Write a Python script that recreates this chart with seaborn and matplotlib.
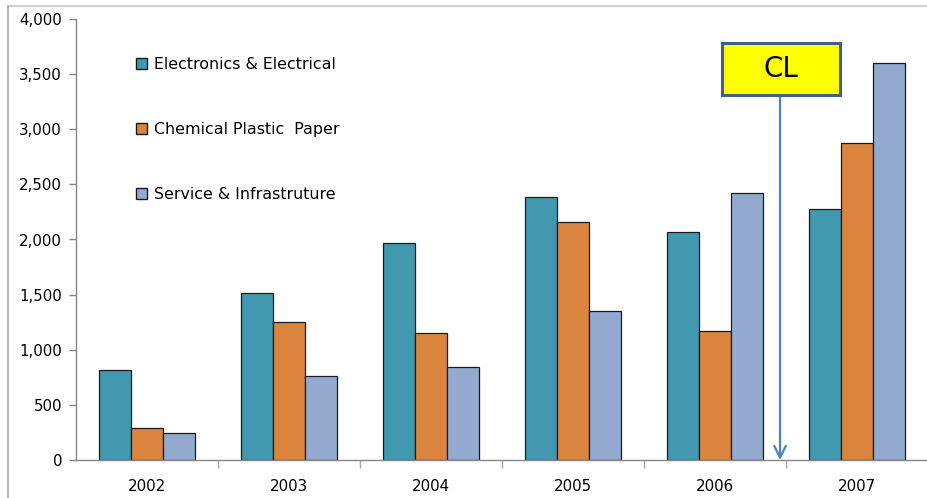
import matplotlib
matplotlib.use("Agg")
import matplotlib.pyplot as plt
from matplotlib.lines import Line2D
from matplotlib.patches import Rectangle
from matplotlib.ticker import FuncFormatter, FixedLocator
import seaborn as sns
import pandas as pd

# Yearly figures per sector
years = ["2002", "2003", "2004", "2005", "2006", "2007"]
electronics = [816, 1512, 1971, 2383, 2068, 2279]
chemical = [290, 1254, 1155, 2159, 1167, 2878]
service = [245, 762, 846, 1349, 2419, 3601]
sectors = ["Electronics & Electrical", "Chemical Plastic  Paper", "Service & Infrastruture"]
colors = ["#4198AF", "#DB843D", "#93A9CF"]
y_ticks = [0, 500, 1000, 1500, 2000, 2500, 3000, 3500, 4000]

df = pd.DataFrame({
    "year": years * 3,
    "sector": [sectors[0]] * 6 + [sectors[1]] * 6 + [sectors[2]] * 6,
    "value": electronics + chemical + service,
})

sns.set_theme(style="white")
plt.rcParams["font.family"] = ["DejaVu Sans"]
plt.rcParams["text.color"] = "#000000"

fig = plt.figure(figsize=(9.27, 4.98), dpi=100)
W, H = 927, 498
ax = fig.add_axes([76 / W, 38 / H, 852 / W, 441 / H])

sns.barplot(data=df, x="year", y="value", hue="sector", order=years,
            hue_order=sectors, palette=colors, width=0.67, gap=0,
            edgecolor="#1a1a1a", linewidth=0.9, saturation=1, ax=ax,
            legend=True)

ax.set_xlim(-0.5, 5.5)
ax.set_ylim(0, 4000)
ax.set_xlabel("")
ax.set_ylabel("")

ax.yaxis.set_major_locator(FixedLocator(y_ticks))
ax.yaxis.set_major_formatter(FuncFormatter(lambda v, p: f"{int(v):,}"))
ax.tick_params(axis="y", which="major", left=True, length=5, width=1,
               color="#868686", labelsize=10.8, pad=5, labelcolor="#000000")
ax.tick_params(axis="x", which="major", bottom=False, labelsize=10.8,
               pad=8, labelcolor="#000000")
ax.set_xticks([i - 0.5 for i in range(1, 6)], minor=True)
ax.tick_params(axis="x", which="minor", bottom=True, length=6, width=1,
               color="#A6A6A6", direction="out")

for s in ["top", "right"]:
    ax.spines[s].set_visible(False)
ax.spines["left"].set_color("#868686")
ax.spines["bottom"].set_color("#868686")
ax.spines["left"].set_linewidth(1)
ax.spines["bottom"].set_linewidth(1)

# Legend stacked inside the plot area
handles, labels = ax.get_legend_handles_labels()
leg = ax.legend(handles, labels, loc="upper left",
                bbox_to_anchor=(130 / W, 1 - 51 / H),
                bbox_transform=fig.transFigure, frameon=False,
                fontsize=11.4, handlelength=0.68, handleheight=0.68,
                handletextpad=0.45, labelspacing=3.15, borderaxespad=0)
for t in leg.get_texts():
    t.set_color("#000000")
for h in leg.legend_handles:
    h.set_edgecolor("#1a1a1a")
    h.set_linewidth(1.0)

# "CL" callout with arrow pointing at the axis between 2006 and 2007
box_x0, box_x1 = 4.049, 4.880
box_y0, box_y1 = 3311, 3782
ax.add_patch(Rectangle((box_x0, box_y0), box_x1 - box_x0, box_y1 - box_y0,
                       facecolor="#FFFF00", edgecolor="#3F5F8F", linewidth=2.2,
                       zorder=5, clip_on=False))
ax.text((box_x0 + box_x1) / 2, (box_y0 + box_y1) / 2, "CL", ha="center",
        va="center", fontsize=20, color="#000000", zorder=6)
arrow_x = 4.458
ax.annotate("", xy=(arrow_x, 0), xytext=(arrow_x, box_y0),
            arrowprops=dict(arrowstyle="->,head_length=0.7,head_width=0.35",
                            color="#4F81BD", lw=1.6, shrinkA=0, shrinkB=0),
            zorder=4)

# Light chart-area frame along the top and left
fig.add_artist(Line2D([8 / W, 1], [1 - 6 / H, 1 - 6 / H],
                      transform=fig.transFigure, color="#D0D0D0", lw=1.6))
fig.add_artist(Line2D([8 / W, 8 / W], [0, 1 - 6 / H],
                      transform=fig.transFigure, color="#A8A8A8", lw=1.2))

fig.savefig("out.png", dpi=100)
